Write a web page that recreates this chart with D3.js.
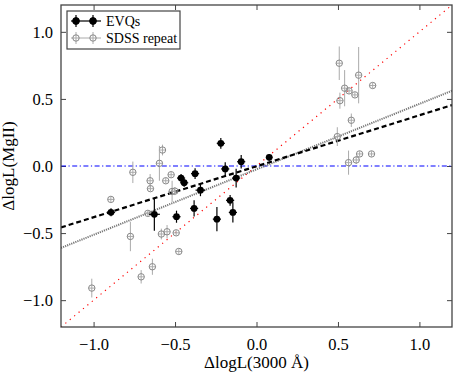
<!DOCTYPE html>
<meta charset="utf-8">
<style>
body { margin: 0; background: #fff; }
text { font-family: "Liberation Serif", "DejaVu Serif", serif; fill: #000; }
.frame { fill: none; stroke: #444; stroke-width: 1.3px; }
.tick line { stroke: #444; }
</style>
<body>
<script src="https://d3js.org/d3.v7.min.js"></script>
<script>

// EVQs (filled black)
var evqX    = [-0.893, -0.627, -0.491, -0.463, -0.444, -0.377, -0.344, -0.383, -0.243, -0.219, -0.192, -0.162, -0.145, -0.125, -0.094, 0.078];
var evqY    = [-0.345, -0.360, -0.378, -0.090, -0.125, -0.057, -0.180, -0.316, -0.396, 0.169, -0.022, -0.256, -0.346, -0.090, 0.032, 0.065];
var evqYerr = [0.03, 0.123, 0.045, 0.03, 0.03, 0.04, 0.045, 0.06, 0.09, 0.04, 0.05, 0.04, 0.075, 0.07, 0.05, 0.025];
var evqXerr = [0.025, 0.034, 0.025, 0.025, 0.025, 0.025, 0.03, 0.025, 0.025, 0.025, 0.025, 0.025, 0.025, 0.025, 0.025, 0.02];

// SDSS repeat (open grey)
var sdssX    = [-0.577, -0.596, -0.759, -0.653, -0.651, -0.524, -0.557, -0.518, -0.501, -0.894, -0.667, -0.774, -0.584, -0.549, -0.493, -0.477, -0.639, -0.708, -1.011,
                0.508, 0.627, 0.541, 0.568, 0.713, 0.604, 0.512, 0.582, 0.496, 0.633, 0.612, 0.706, 0.565];
var sdssY    = [0.119, 0.020, -0.047, -0.110, -0.169, -0.065, -0.110, -0.190, -0.187, -0.249, -0.353, -0.525, -0.507, -0.490, -0.498, -0.637, -0.751, -0.826, -0.910,
                0.766, 0.677, 0.580, 0.560, 0.600, 0.530, 0.487, 0.341, 0.219, 0.090, 0.045, 0.090, 0.025];
var sdssYerr = [0.04, 0.13, 0.08, 0.05, 0.02, 0.02, 0.02, 0.08, 0.03, 0.02, 0.02, 0.11, 0.04, 0.05, 0.02, 0.02, 0.06, 0.05, 0.07,
                0.125, 0.21, 0.135, 0.02, 0.02, 0.02, 0.06, 0.05, 0.07, 0.02, 0.03, 0.02, 0.09];
var sdssXerr = 0.02;

// reference and fitted lines: y = slope * x + intercept
var fitLines = [
  {name: "one-to-one", slope: 1.0,   intercept: 0.0,    color: "#ff0000", width: 1.2, dash: "1.2,4.5"},
  {name: "zero",       slope: 0.0,   intercept: 0.0,    color: "#0000ff", width: 1.1, dash: "5,2.5,1.2,2.5"},
  {name: "sdss fit",   slope: 0.488, intercept: -0.025, color: "#777777", width: 2,   dash: "1.2,1"},
  {name: "evq fit",    slope: 0.38,  intercept: -0.002, color: "#000000", width: 2.2, dash: "5,3"}
];

var tickValues = [-1.0, -0.5, 0.0, 0.5, 1.0];
var legendLabels = ["EVQs", "SDSS repeat"];

// set the dimensions and margins of the graph
var margin = {top: 5, right: 5, bottom: 47, left: 61},
    width = 452 - margin.left,
    height = 327 - margin.top;

var x = d3.scaleLinear().domain([-1.2, 1.2]).range([0, width]);
var y = d3.scaleLinear().domain([-1.2, 1.2]).range([height, 0]);

var svg = d3.select("body").append("svg")
    .attr("width", 457)
    .attr("height", 374)
  .append("g")
    .attr("transform", "translate(" + margin.left + "," + margin.top + ")");

svg.append("defs").append("clipPath").attr("id", "clip")
  .append("rect").attr("width", width).attr("height", height);

var fmt = function(d) { return d3.format(".1f")(d).replace("-", "\u2212"); };
var serif = "'Liberation Serif', 'DejaVu Serif', serif";

// axes with inward ticks on all four sides
var tickFont = "16.5px";
svg.append("g")
    .attr("transform", "translate(0," + height + ")")
    .attr("font-family", serif)
    .call(d3.axisBottom(x).tickValues(tickValues).tickSize(-5).tickPadding(11).tickFormat(fmt))
    .call(function(g) { g.select(".domain").remove(); g.selectAll("text").style("font-size", tickFont).style("font-family", serif); });
svg.append("g")
    .call(d3.axisTop(x).tickValues(tickValues).tickSize(-5).tickFormat(""))
    .call(function(g) { g.select(".domain").remove(); });
svg.append("g")
    .attr("font-family", serif)
    .call(d3.axisLeft(y).tickValues(tickValues).tickSize(-5).tickPadding(8).tickFormat(fmt))
    .call(function(g) { g.select(".domain").remove(); g.selectAll("text").style("font-size", tickFont).style("font-family", serif); });
svg.append("g")
    .attr("transform", "translate(" + width + ",0)")
    .call(d3.axisRight(y).tickValues(tickValues).tickSize(-5).tickFormat(""))
    .call(function(g) { g.select(".domain").remove(); });

var plot = svg.append("g").attr("clip-path", "url(#clip)");

// lines
plot.selectAll(".fit")
    .data(fitLines)
  .enter().append("line")
    .attr("class", "fit")
    .attr("x1", x(-1.2))
    .attr("x2", x(1.2))
    .attr("y1", function(d) { return y(d.slope * -1.2 + d.intercept); })
    .attr("y2", function(d) { return y(d.slope * 1.2 + d.intercept); })
    .style("stroke", function(d) { return d.color; })
    .style("stroke-width", function(d) { return d.width; })
    .style("stroke-dasharray", function(d) { return d.dash; });

// SDSS points
var sdss = sdssX.map(function(v, i) { return {x: v, y: sdssY[i], ye: sdssYerr[i], xe: sdssXerr}; });
var sg = plot.selectAll(".sdss").data(sdss).enter().append("g").attr("class", "sdss");
sg.append("line")
    .attr("x1", function(d) { return x(d.x); }).attr("x2", function(d) { return x(d.x); })
    .attr("y1", function(d) { return y(d.y - d.ye); }).attr("y2", function(d) { return y(d.y + d.ye); })
    .style("stroke", "#aaa").style("stroke-width", 1);
sg.append("line")
    .attr("x1", function(d) { return x(d.x - d.xe); }).attr("x2", function(d) { return x(d.x + d.xe); })
    .attr("y1", function(d) { return y(d.y); }).attr("y2", function(d) { return y(d.y); })
    .style("stroke", "#aaa").style("stroke-width", 1);
sg.append("circle")
    .attr("cx", function(d) { return x(d.x); })
    .attr("cy", function(d) { return y(d.y); })
    .attr("r", 3.2)
    .style("fill", "none").style("stroke", "#888").style("stroke-width", 1);

// EVQ points
var evq = evqX.map(function(v, i) { return {x: v, y: evqY[i], ye: evqYerr[i], xe: evqXerr[i]}; });
var eg = plot.selectAll(".evq").data(evq).enter().append("g").attr("class", "evq");
eg.append("line")
    .attr("x1", function(d) { return x(d.x); }).attr("x2", function(d) { return x(d.x); })
    .attr("y1", function(d) { return y(d.y - d.ye); }).attr("y2", function(d) { return y(d.y + d.ye); })
    .style("stroke", "#000").style("stroke-width", 1.2);
eg.append("line")
    .attr("x1", function(d) { return x(d.x - d.xe); }).attr("x2", function(d) { return x(d.x + d.xe); })
    .attr("y1", function(d) { return y(d.y); }).attr("y2", function(d) { return y(d.y); })
    .style("stroke", "#000").style("stroke-width", 1.2);
eg.append("circle")
    .attr("cx", function(d) { return x(d.x); })
    .attr("cy", function(d) { return y(d.y); })
    .attr("r", 3.4)
    .style("fill", "#000");

// frame
svg.append("rect").attr("class", "frame").attr("width", width).attr("height", height);

// axis labels
svg.append("text")
    .attr("x", width / 2)
    .attr("y", height + 41)
    .attr("text-anchor", "middle")
    .style("font-size", "17px")
    .text("\u0394logL(3000 \u00c5)");
svg.append("text")
    .attr("transform", "translate(" + (-47) + "," + (height / 2) + ") rotate(-90)")
    .attr("text-anchor", "middle")
    .style("font-size", "17px")
    .text("\u0394logL(MgII)");

// legend
var legend = svg.append("g").attr("transform", "translate(6,6)");
legend.append("rect")
    .attr("width", 113).attr("height", 38)
    .style("fill", "#fff").style("stroke", "#444").style("stroke-width", 1.2);
var legendStyles = [
  {stroke: "#000", fill: "#000", lw: 1.2, r: 3.4},
  {stroke: "#aaa", fill: "none", lw: 1, r: 3.2, edge: "#888"}
];
legendLabels.forEach(function(lab, i) {
  var st = legendStyles[i];
  var row = legend.append("g").attr("transform", "translate(0," + (10 + i * 17) + ")");
  row.append("line").attr("x1", 4).attr("x2", 34).attr("y1", 0).attr("y2", 0)
      .style("stroke", st.stroke).style("stroke-width", st.lw);
  [9, 26].forEach(function(cx) {
    row.append("line").attr("x1", cx).attr("x2", cx).attr("y1", -6).attr("y2", 6)
        .style("stroke", st.stroke).style("stroke-width", st.lw);
    row.append("circle").attr("cx", cx).attr("cy", 0).attr("r", st.r)
        .style("fill", st.fill).style("stroke", st.edge || st.stroke).style("stroke-width", 1);
  });
  row.append("text").attr("x", 39).attr("y", 5)
      .style("font-size", "14px")
      .text(lab);
});

</script>
</body>
